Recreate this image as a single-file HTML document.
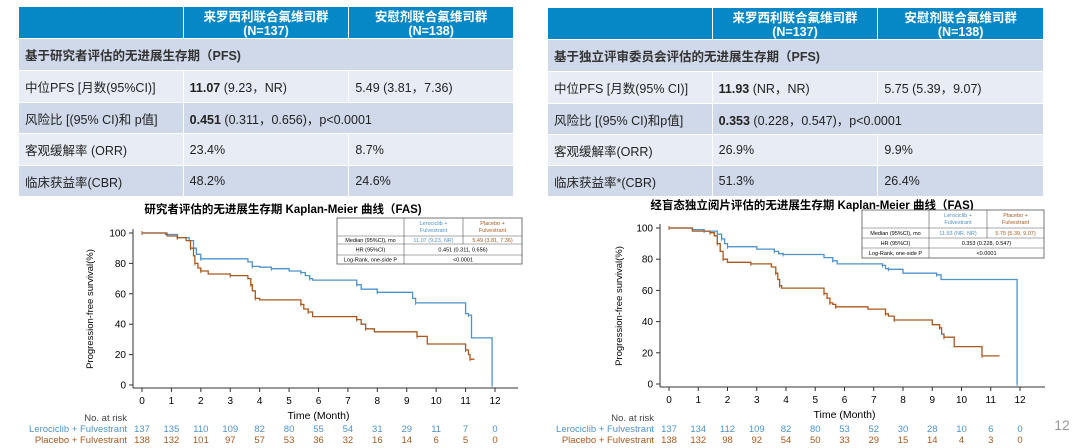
<!DOCTYPE html>
<html><head><meta charset="utf-8">
<style>
*{margin:0;padding:0;box-sizing:border-box}
body{width:1080px;height:448px;background:#fff;position:relative;overflow:hidden;font-family:"Liberation Sans","Noto Sans CJK SC",sans-serif;color:#222}
.t{position:absolute;border-collapse:collapse;font-size:12.5px}
.t td{border:1.5px solid #fff;padding:0 0 0 6px;vertical-align:middle}
.t .h td{background:#0788c6;color:#fff;font-weight:bold;text-align:center;font-size:12.5px;line-height:14px;padding:3px 0 0 0}
.t .d td{background:#cfd9e9}
.t .l td{background:#e8edf5}
.t .s td{font-weight:bold;color:#333}
</style></head><body>

<table class="t" style="left:18px;top:6px;width:496px">
<colgroup><col style="width:165px"><col style="width:166px"><col style="width:165px"></colgroup>
<tr class="h" style="height:31px"><td></td><td>来罗西利联合氟维司群<br>(N=137)</td><td>安慰剂联合氟维司群<br>(N=138)</td></tr>
<tr class="d s" style="height:32px"><td colspan="3">基于研究者评估的无进展生存期（PFS)</td></tr>
<tr class="l" style="height:32px"><td>中位PFS [月数(95%CI)]</td><td><b>11.07</b> (9.23，NR)</td><td>5.49 (3.81，7.36)</td></tr>
<tr class="d" style="height:31px"><td>风险比 [(95% CI)和 p值]</td><td colspan="2"><b>0.451</b> (0.311，0.656)，p&lt;0.0001</td></tr>
<tr class="l" style="height:32px"><td>客观缓解率 (ORR)</td><td>23.4%</td><td>8.7%</td></tr>
<tr class="d" style="height:31px"><td>临床获益率(CBR)</td><td>48.2%</td><td>24.6%</td></tr>
</table>

<table class="t" style="left:547px;top:7px;width:497px">
<colgroup><col style="width:165px"><col style="width:166px"><col style="width:166px"></colgroup>
<tr class="h" style="height:31px"><td></td><td>来罗西利联合氟维司群<br>(N=137)</td><td>安慰剂联合氟维司群<br>(N=138)</td></tr>
<tr class="d s" style="height:32px"><td colspan="3">基于独立评审委员会评估的无进展生存期（PFS)</td></tr>
<tr class="l" style="height:32px"><td>中位PFS [月数(95% CI)]</td><td><b>11.93</b> (NR，NR)</td><td>5.75 (5.39，9.07)</td></tr>
<tr class="d" style="height:31px"><td>风险比 [(95% CI)和p值]</td><td colspan="2"><b>0.353</b> (0.228，0.547)，p&lt;0.0001</td></tr>
<tr class="l" style="height:31px"><td>客观缓解率(ORR)</td><td>26.9%</td><td>9.9%</td></tr>
<tr class="d" style="height:31px"><td>临床获益率*(CBR)</td><td>51.3%</td><td>26.4%</td></tr>
</table>

<svg id="s" width="1080" height="448" style="position:absolute;left:0;top:0" font-family="Liberation Sans, Noto Sans CJK SC, sans-serif">
<text x="283" y="213" font-size="11.5" font-weight="bold" text-anchor="middle">研究者评估的无进展生存期 Kaplan-Meier 曲线（FAS)</text>
<text x="812" y="209" font-size="11.5" font-weight="bold" text-anchor="middle">经盲态独立阅片评估的无进展生存期 Kaplan-Meier 曲线（FAS)</text>
<text x="1062" y="430" font-size="14" fill="#999" text-anchor="middle">12</text>
</svg>

<script>
var S=document.getElementById('s'),NS='http://www.w3.org/2000/svg';
function el(n,a,t){var e=document.createElementNS(NS,n);for(var k in a)e.setAttribute(k,a[k]);if(t!=null)e.textContent=t;S.appendChild(e);return e;}
var BL='#4f92c9',OR='#a8581f';
function chart(c){
 var X=function(m){return c.x0+m*(c.x12-c.x0)/12},Y=function(p){return c.y0-p*(c.y0-c.y100)/100};
 el('line',{x1:c.ax,y1:c.y100-4,x2:c.ax,y2:c.axy,stroke:'#333','stroke-width':1});
 el('line',{x1:c.ax,y1:c.axy,x2:c.axr,y2:c.axy,stroke:'#333','stroke-width':1});
 for(var p=0;p<=100;p+=20){el('line',{x1:c.ax-4,y1:Y(p),x2:c.ax,y2:Y(p),stroke:'#333'});el('text',{x:c.ax-7,y:Y(p)+3.5,'font-size':10,'text-anchor':'end'},p);}
 for(var m=0;m<=12;m++){el('line',{x1:X(m),y1:c.axy,x2:X(m),y2:c.axy+4,stroke:'#333'});el('text',{x:X(m),y:c.axy+16,'font-size':10,'text-anchor':'middle'},m);}
 el('text',{x:0,y:0,'font-size':9.5,'text-anchor':'middle',transform:'translate('+c.yl+','+(c.y100+c.y0)/2+') rotate(-90)'},'Progression-free survival(%)');
 el('text',{x:(c.x0+c.x12)/2,y:c.axy+31,'font-size':10.5,'text-anchor':'middle'},'Time (Month)');
 el('text',{x:c.rl,y:421,'font-size':9.5,'text-anchor':'end',fill:'#444'},'No. at risk');
 el('text',{x:c.rl,y:432,'font-size':9.5,'text-anchor':'end',fill:BL},'Lerociclib + Fulvestrant');
 el('text',{x:c.rl,y:443,'font-size':9.5,'text-anchor':'end',fill:OR},'Placebo + Fulvestrant');
 for(m=0;m<=12;m++){el('text',{x:X(m),y:432,'font-size':9.5,'text-anchor':'middle',fill:BL},c.rb[m]);el('text',{x:X(m),y:443,'font-size':9.5,'text-anchor':'middle',fill:OR},c.ro[m]);}
 [[c.b,BL],[c.o,OR]].forEach(function(s){var d='M'+X(0)+','+Y(s[0][0][1]);var pts=s[0];
  for(var i=1;i<pts.length;i++){d+=' H'+X(pts[i][0]).toFixed(1)+' V'+Y(pts[i][1]).toFixed(1);}
  d+=' H'+X(s[0].end).toFixed(1);
  el('path',{d:d,fill:'none',stroke:s[1],'stroke-width':1.3});
  for(i=0;i<pts.length;i+=2){el('line',{x1:X(pts[i][0]),y1:Y(pts[i][1])-2,x2:X(pts[i][0]),y2:Y(pts[i][1])+2,stroke:s[1]});}
 });
 var L=c.lg,cx=L.c,ry=L.r;
 el('rect',{x:cx[0],y:ry[0],width:cx[3]-cx[0],height:ry[4]-ry[0],fill:'#fff',stroke:'#555','stroke-width':0.8});
 for(var i=1;i<4;i++)el('line',{x1:cx[0],y1:ry[i],x2:cx[3],y2:ry[i],stroke:'#555','stroke-width':0.6});
 el('line',{x1:cx[1],y1:ry[0],x2:cx[1],y2:ry[4],stroke:'#555','stroke-width':0.6});
 el('line',{x1:cx[2],y1:ry[0],x2:cx[2],y2:ry[2],stroke:'#555','stroke-width':0.6});
 var fs=5.5,m1=(cx[1]+cx[2])/2,m2=(cx[2]+cx[3])/2,m0=(cx[0]+cx[1])/2,m12=(cx[1]+cx[3])/2;
 el('text',{x:m1,y:ry[0]+7,'font-size':fs,'text-anchor':'middle',fill:BL},'Lerociclib +');
 el('text',{x:m1,y:ry[0]+14,'font-size':fs,'text-anchor':'middle',fill:BL},'Fulvestrant');
 el('text',{x:m2,y:ry[0]+7,'font-size':fs,'text-anchor':'middle',fill:OR},'Placebo +');
 el('text',{x:m2,y:ry[0]+14,'font-size':fs,'text-anchor':'middle',fill:OR},'Fulvestrant');
 function rt(k,a,b,cc,d){var yy=(ry[k]+ry[k+1])/2+2;el('text',{x:m0,y:yy,'font-size':fs,'text-anchor':'middle'},a);
  if(d){el('text',{x:m12,y:yy,'font-size':fs,'text-anchor':'middle'},b);}else{el('text',{x:m1,y:yy,'font-size':fs,'text-anchor':'middle',fill:BL},b);el('text',{x:m2,y:yy,'font-size':fs,'text-anchor':'middle',fill:OR},cc);}}
 rt(1,'Median (95%CI), mo',L.b,L.o);rt(2,'HR (95%CI)',L.hr,0,1);rt(3,'Log-Rank, one-side P','<0.0001',0,1);
}
function A(a,end){a.end=end;return a;}
chart({x0:142,x12:495,y0:385,y100:233,ax:133,axy:388,axr:518,yl:93,rl:127,
 rb:[137,135,110,109,82,80,55,54,31,29,11,7,0],ro:[138,132,101,97,57,53,36,32,16,14,6,5,0],
 b:A([[0,100],[0.8,99],[1.2,97],[1.6,95],[1.75,90],[1.85,86],[2,83],[3.6,81],[3.75,78],[4,77.5],[4.4,76.5],[5,75],[5.4,74],[5.55,72],[5.7,70],[5.8,69],[7.3,66],[7.45,63],[8,61],[9.2,57],[9.3,54],[11,47],[11.1,46],[11.2,31],[11.9,0]],11.9),
 o:A([[0,100],[0.85,98],[1.2,97],[1.5,95],[1.65,90],[1.75,85],[1.8,80],[1.9,77],[2,75],[2.25,73],[3,72],[3.6,70],[3.7,66],[3.75,62],[3.85,57],[4,56],[5.4,53],[5.5,50],[5.65,48],[5.8,45],[7.3,43],[7.45,40],[7.6,37],[7.9,35],[9.35,32],[9.7,27],[11,23],[11.1,20],[11.15,17]],11.3),
 lg:{c:[337,404,463,522],r:[218,236,244,255,264],b:'11.07 (9.23, NR)',o:'5.49 (3.81, 7.36)',hr:'0.451  (0.311, 0.656)'}});
chart({x0:669,x12:1020,y0:384,y100:228,ax:660,axy:387,axr:1045,yl:622,rl:654,
 rb:[137,134,112,109,82,80,53,52,30,28,10,6,0],ro:[138,132,98,92,54,50,33,29,15,14,4,3,0],
 b:A([[0,100],[0.8,99],[1.2,98],[1.65,96],[1.8,93],[1.9,90],[2,88],[3,86.5],[3.6,85],[3.75,83.5],[3.9,83],[5.3,81],[5.6,79],[5.75,77],[7.3,76],[7.4,74],[7.5,73.5],[8,71],[9.15,70],[9.3,67],[11.9,0]],11.9),
 o:A([[0,100],[0.8,98],[1.4,97],[1.55,95],[1.65,90],[1.75,85],[1.85,80],[2,78],[2.8,77],[3.5,75],[3.65,71],[3.72,67],[3.78,63],[3.85,61.5],[5.3,58],[5.4,55],[5.5,52],[5.6,51],[5.7,49.5],[6.8,48],[7.4,45],[7.5,43.5],[7.7,41],[9,38],[9.25,36],[9.32,32],[9.4,30],[9.75,24],[10.7,18]],11.3),
 lg:{c:[862,929,987,1044],r:[210,228,238,248,258],b:'11.93 (NR, NR)',o:'5.75 (5.39, 9.07)',hr:'0.353  (0.228, 0.547)'}});
</script>
</body></html>
